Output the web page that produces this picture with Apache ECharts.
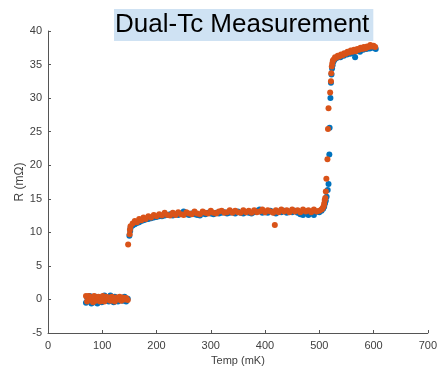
<!DOCTYPE html>
<html>
<head>
<meta charset="utf-8">
<script src="https://cdn.jsdelivr.net/npm/echarts@6/dist/echarts.min.js"></script>
<style>html,body{margin:0;padding:0;background:#fff}#c{width:440px;height:372px}</style>
</head>
<body>
<div id="c"></div>
<script>
// ---- axis ranges / ticks ----
const xTicks = [0, 100, 200, 300, 400, 500, 600, 700];
const yTicks = [-5, 0, 5, 10, 15, 20, 25, 30, 35, 40];

// ---- superconducting region (both series share temps) ----
const scTemp   = [70, 72, 75, 77, 80, 83, 85, 88, 91, 93, 96, 99, 101, 104, 107, 110, 112, 115, 118, 121, 123, 126, 129, 132, 135, 138, 141, 144, 147];
const scBlue   = [-0.5, 0.3, -0.2, 0.5, -0.6, 0.1, -0.4, 0.4, -0.6, 0.0, 0.3, -0.4, 0.2, 0.6, -0.2, 0.3, -0.3, 0.6, 0.0, -0.4, 0.4, 0.1, -0.3, 0.3, 0.0, -0.2, 0.4, -0.3, 0.1];
const scOrange = [0.5, -0.3, 0.5, 0.0, 0.3, -0.4, 0.5, -0.2, 0.3, 0.4, -0.3, 0.1, 0.5, -0.3, 0.4, 0.0, 0.3, -0.2, 0.4, 0.1, -0.3, 0.3, 0.0, 0.4, -0.2, 0.3, 0.0, 0.2, -0.1];

// ---- first step (≈150 mK) ----
const stepBlueT   = [150, 151.5];
const stepBlueR   = [9.5, 10.2];
const stepOrangeT = [147.7, 150.5, 151];
const stepOrangeR = [8.2, 9.7, 10.4];

// ---- plateau (shared temps) ----
const plTemp = [152, 156, 160, 164, 168, 172, 176, 180, 185, 190, 195, 200, 205, 210, 215, 220, 225, 230, 235, 240, 245, 250, 255, 260, 265, 270, 275, 280, 285, 290, 295, 300, 305, 310, 315, 320, 325, 330, 335, 340, 345, 350, 355, 360, 365, 370, 375, 380, 385, 390, 395, 400, 405, 410, 415, 420, 425, 430, 435, 440, 445, 450, 455, 460, 465, 470, 475, 480, 485, 490, 495, 500, 504];
const plBlue = [10.6, 11.0, 11.2, 11.4, 11.5, 11.7, 11.8, 11.9, 12.0, 12.1, 12.2, 12.3, 12.4, 12.4, 12.5, 12.6, 12.7, 12.5, 12.7, 12.6, 12.8, 13.1, 12.7, 12.6, 12.8, 12.7, 12.6, 12.5, 12.8, 12.7, 12.9, 12.8, 12.7, 12.9, 12.8, 12.9, 13.0, 12.8, 12.9, 13.0, 12.8, 13.1, 12.9, 12.8, 13.0, 12.9, 12.8, 13.0, 13.2, 13.4, 12.9, 13.0, 12.9, 13.2, 13.0, 12.8, 13.1, 13.0, 13.2, 12.9, 13.1, 13.0, 13.2, 12.9, 12.7, 12.6, 13.1, 12.6, 13.0, 12.6, 13.1, 13.0, 13.2];
const plOrange = [10.9, 11.3, 11.7, 11.5, 12.0, 11.8, 12.2, 12.0, 12.4, 12.2, 12.6, 12.4, 12.7, 12.5, 12.9, 12.6, 12.5, 12.9, 12.6, 13.0, 12.7, 12.6, 13.0, 12.8, 12.7, 13.1, 12.8, 12.7, 13.1, 12.9, 12.8, 13.2, 12.9, 12.8, 13.1, 13.2, 12.9, 13.0, 13.3, 12.9, 13.2, 13.0, 12.9, 13.3, 13.0, 13.2, 12.9, 13.3, 13.0, 13.1, 13.4, 13.0, 13.3, 13.1, 12.9, 13.3, 13.0, 13.4, 13.1, 13.3, 13.0, 13.4, 13.1, 13.3, 13.0, 13.4, 13.1, 13.3, 13.0, 13.4, 13.1, 13.2, 13.4];
const outlierOrangeT = [418];
const outlierOrangeR = [11.1];

// ---- second transition (≈515 mK) ----
const trBlueT   = [507, 509, 510.5, 512, 513.5, 515.5, 517, 518.5, 519, 520.5, 521.5, 522.5, 523.5];
const trBlueR   = [13.5, 13.8, 14.3, 14.7, 15.3, 16.3, 17.2, 21.6, 25.6, 30.0, 32.3, 33.5, 34.4];
const trOrangeT = [506, 508, 509, 510, 511, 512, 513, 515, 516, 517, 520, 521.5, 522, 523];
const trOrangeR = [13.6, 13.9, 14.3, 14.8, 15.1, 16.1, 18.0, 20.9, 25.4, 28.5, 30.85, 32.5, 33.7, 34.7];

// ---- normal state (top) ----
const topBlueT   = [524.5, 526, 528, 530, 533, 536, 539, 542, 545, 548, 551, 554, 557, 560, 563, 566, 569, 572, 575, 578, 581, 584, 587, 590, 593, 596, 599, 602, 604];
const topBlueR   = [34.9, 35.4, 35.7, 35.9, 36.0, 36.2, 36.1, 36.4, 36.3, 36.6, 36.5, 36.7, 36.6, 36.9, 36.7, 36.1, 37.0, 37.1, 36.9, 37.3, 37.2, 37.4, 37.3, 37.5, 37.4, 37.6, 37.5, 37.5, 37.3];
const topOrangeT = [524, 525, 527, 529, 531, 534, 537, 540, 543, 546, 549, 552, 555, 558, 561, 564, 567, 570, 573, 576, 579, 582, 585, 588, 591, 594, 597, 600, 603];
const topOrangeR = [35.2, 35.6, 35.8, 36.1, 36.0, 36.3, 36.2, 36.5, 36.4, 36.7, 36.6, 36.9, 36.8, 37.1, 36.9, 37.2, 37.0, 37.3, 37.2, 37.5, 37.3, 37.6, 37.4, 37.7, 37.6, 37.9, 37.7, 37.8, 37.6];

function zip(t, r) { return t.map((x, i) => [x, r[i]]); }

const blueData = [].concat(
  zip(scTemp, scBlue), zip(stepBlueT, stepBlueR), zip(plTemp, plBlue),
  zip(trBlueT, trBlueR), zip(topBlueT, topBlueR));
const orangeData = [].concat(
  zip(scTemp, scOrange), zip(stepOrangeT, stepOrangeR), zip(plTemp, plOrange),
  zip(outlierOrangeT, outlierOrangeR), zip(trOrangeT, trOrangeR), zip(topOrangeT, topOrangeR));

const FONT = "'Liberation Sans', Arial, Helvetica, sans-serif";
const axisColor = '#555555';
const labelColor = '#404040';

const chart = echarts.init(document.getElementById('c'), null, { renderer: 'canvas' });
chart.setOption({
  animation: false,
  backgroundColor: '#ffffff',
  title: {
    text: 'Dual-Tc Measurement',
    left: 114, top: 9,
    padding: [1, 4, 1, 1],
    backgroundColor: '#cfe2f3',
    textStyle: { fontFamily: FONT, fontSize: 26, fontWeight: 'normal', color: '#000', lineHeight: 30 }
  },
  grid: { left: 48, right: 11, top: 31, bottom: 39, containLabel: false },
  xAxis: {
    type: 'value', min: xTicks[0], max: xTicks[xTicks.length - 1], interval: 100,
    name: 'Temp (mK)', nameLocation: 'middle', nameGap: 21,
    nameTextStyle: { fontFamily: FONT, fontSize: 11, color: labelColor },
    axisLine: { show: true, onZero: false, lineStyle: { color: axisColor, width: 1 } },
    axisTick: { show: true, inside: true, length: 3, lineStyle: { color: axisColor } },
    axisLabel: { fontFamily: FONT, fontSize: 11, color: labelColor, margin: 7 },
    splitLine: { show: false }
  },
  yAxis: {
    type: 'value', min: yTicks[0], max: yTicks[yTicks.length - 1], interval: 5,
    name: 'R (mΩ)', nameLocation: 'middle', nameGap: 22, nameRotate: 90,
    nameMoveOverlap: false,
    nameTextStyle: { fontFamily: FONT, fontSize: 12, color: labelColor },
    axisLine: { show: true, onZero: false, lineStyle: { color: axisColor, width: 1 } },
    axisTick: { show: true, inside: true, length: 3, lineStyle: { color: axisColor } },
    axisLabel: { fontFamily: FONT, fontSize: 11, color: labelColor, margin: 6 },
    splitLine: { show: false }
  },
  series: [
    { type: 'scatter', name: 'blue', data: blueData, symbolSize: 6,
      itemStyle: { color: '#0072BD', opacity: 1 }, z: 2 },
    { type: 'scatter', name: 'orange', data: orangeData, symbolSize: 6,
      itemStyle: { color: '#D95319', opacity: 1 }, z: 3 }
  ]
});
</script>
</body>
</html>
